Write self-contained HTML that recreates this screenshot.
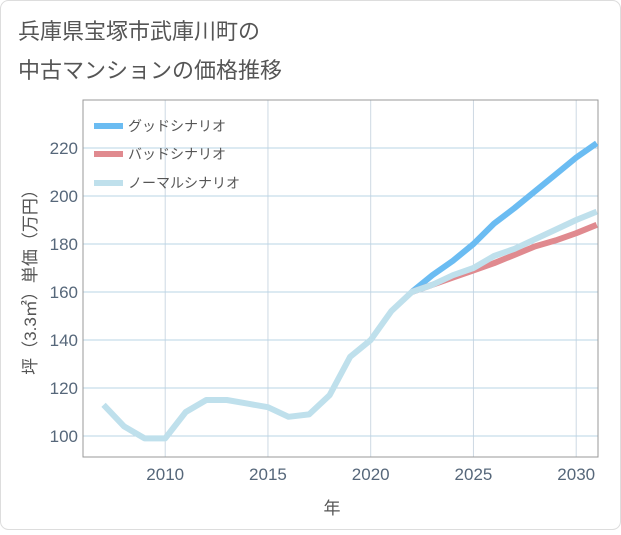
<!DOCTYPE html>
<html><head><meta charset="utf-8"><style>
body{margin:0;background:#fff;}
svg text{font-family:"Liberation Sans","Noto Sans CJK JP",sans-serif;}
</style></head><body>
<svg width="621" height="530" viewBox="0 0 621 530" xmlns="http://www.w3.org/2000/svg">
<rect x="0.5" y="0.5" width="620" height="529" rx="8" fill="#fff" stroke="#ddd"/>
<text x="18" y="39" font-size="22" fill="#555">兵庫県宝塚市武庫川町の</text>
<text x="18" y="78" font-size="22" fill="#555">中古マンションの価格推移</text>
<g id="grid"></g>
<rect x="83" y="100" width="515" height="357" fill="none" stroke="#999"/>
<g id="xticks"></g>
<g id="yticks"></g>
<g id="series"></g>
<text x="332" y="514" font-size="17" fill="#555" text-anchor="middle">年</text>
<text transform="translate(36,278) rotate(-90)" font-size="17" fill="#555" text-anchor="middle">坪（3.3㎡）単価（万円）</text>
<g>
<g><line x1="94" y1="126" x2="123" y2="126" stroke="#6bbcf2" stroke-width="6"/><text x="128" y="131" font-size="14" fill="#555">グッドシナリオ</text></g>
<g><line x1="94" y1="154" x2="123" y2="154" stroke="#e08a8f" stroke-width="6"/><text x="128" y="159" font-size="14" fill="#555">バッドシナリオ</text></g>
<g><line x1="94" y1="183" x2="123" y2="183" stroke="#bfe0ec" stroke-width="6"/><text x="128" y="188" font-size="14" fill="#555">ノーマルシナリオ</text></g>
</g>
</svg>
<script>
const normalYears=[2007,2008,2009,2010,2011,2012,2013,2014,2015,2016,2017,2018,2019,2020,2021,2022,2023,2024,2025,2026,2027,2028,2029,2030,2031];
const normalValues=[113,104,99,99,110,115,115,113.5,112,108,109,117,133,140,152,160,163,167,170,175,178,182,186,190,193.5];
const forecastYears=[2022,2023,2024,2025,2026,2027,2028,2029,2030,2031];
const goodValues=[160,167,173,180,188.5,195,202,209,216,222];
const badValues=[160,163,166,169,172,175.5,179,181.5,184.5,188];
const xTicks=[2010,2015,2020,2025,2030];
const yTicks=[100,120,140,160,180,200,220];
const NS='http://www.w3.org/2000/svg';
const X0=83,X1=598,Y0=100,Y1=457;
function xs(v){return 83+(v-2006)*(576-165)/20;}
function ys(v){return 436-(v-100)*(436-148)/120;}
const grid=document.getElementById('grid');
xTicks.forEach(t=>{const l=document.createElementNS(NS,'line');


l.setAttribute('x1',xs(t));l.setAttribute('x2',xs(t));l.setAttribute('y1',Y0);l.setAttribute('y2',Y1);l.setAttribute('stroke','#cdd9e3');grid.appendChild(l);
const tx=document.createElementNS(NS,'text');


tx.setAttribute('x',xs(t));tx.setAttribute('y',480);tx.setAttribute('font-size','17');tx.setAttribute('fill','#56677a');tx.setAttribute('text-anchor','middle');tx.textContent=t;document.getElementById('xticks').appendChild(tx);});
yTicks.forEach(t=>{const l=document.createElementNS(NS,'line');


l.setAttribute('x1',X0);l.setAttribute('x2',X1);l.setAttribute('y1',ys(t));l.setAttribute('y2',ys(t));l.setAttribute('stroke','#b9d4e6');grid.appendChild(l);
const tx=document.createElementNS(NS,'text');


tx.setAttribute('x',78);tx.setAttribute('y',ys(t)+6);tx.setAttribute('font-size','17');tx.setAttribute('fill','#56677a');tx.setAttribute('text-anchor','end');tx.textContent=t;document.getElementById('yticks').appendChild(tx);});
const clip=document.createElementNS(NS,'clipPath');clip.id='pc';const cr=document.createElementNS(NS,'rect');cr.setAttribute('x',X0);cr.setAttribute('y',Y0);cr.setAttribute('width',X1-X0);cr.setAttribute('height',Y1-Y0);clip.appendChild(cr);document.querySelector('svg').appendChild(clip);
function line(xsArr,vals,color,name){const p=document.createElementNS(NS,'polyline');


p.setAttribute('points',xsArr.map((x,i)=>xs(x)+','+ys(vals[i])).join(' '));
p.setAttribute('fill','none');p.setAttribute('stroke',color);p.setAttribute('stroke-width','6');p.setAttribute('stroke-linejoin','round');p.setAttribute('clip-path','url(#pc)');
document.getElementById('series').appendChild(p);}
line(forecastYears,goodValues,'#6bbcf2','good-scenario-line');
line(forecastYears,badValues,'#e08a8f','bad-scenario-line');
line(normalYears,normalValues,'#bfe0ec','normal-scenario-line');
</script>
</body></html>
